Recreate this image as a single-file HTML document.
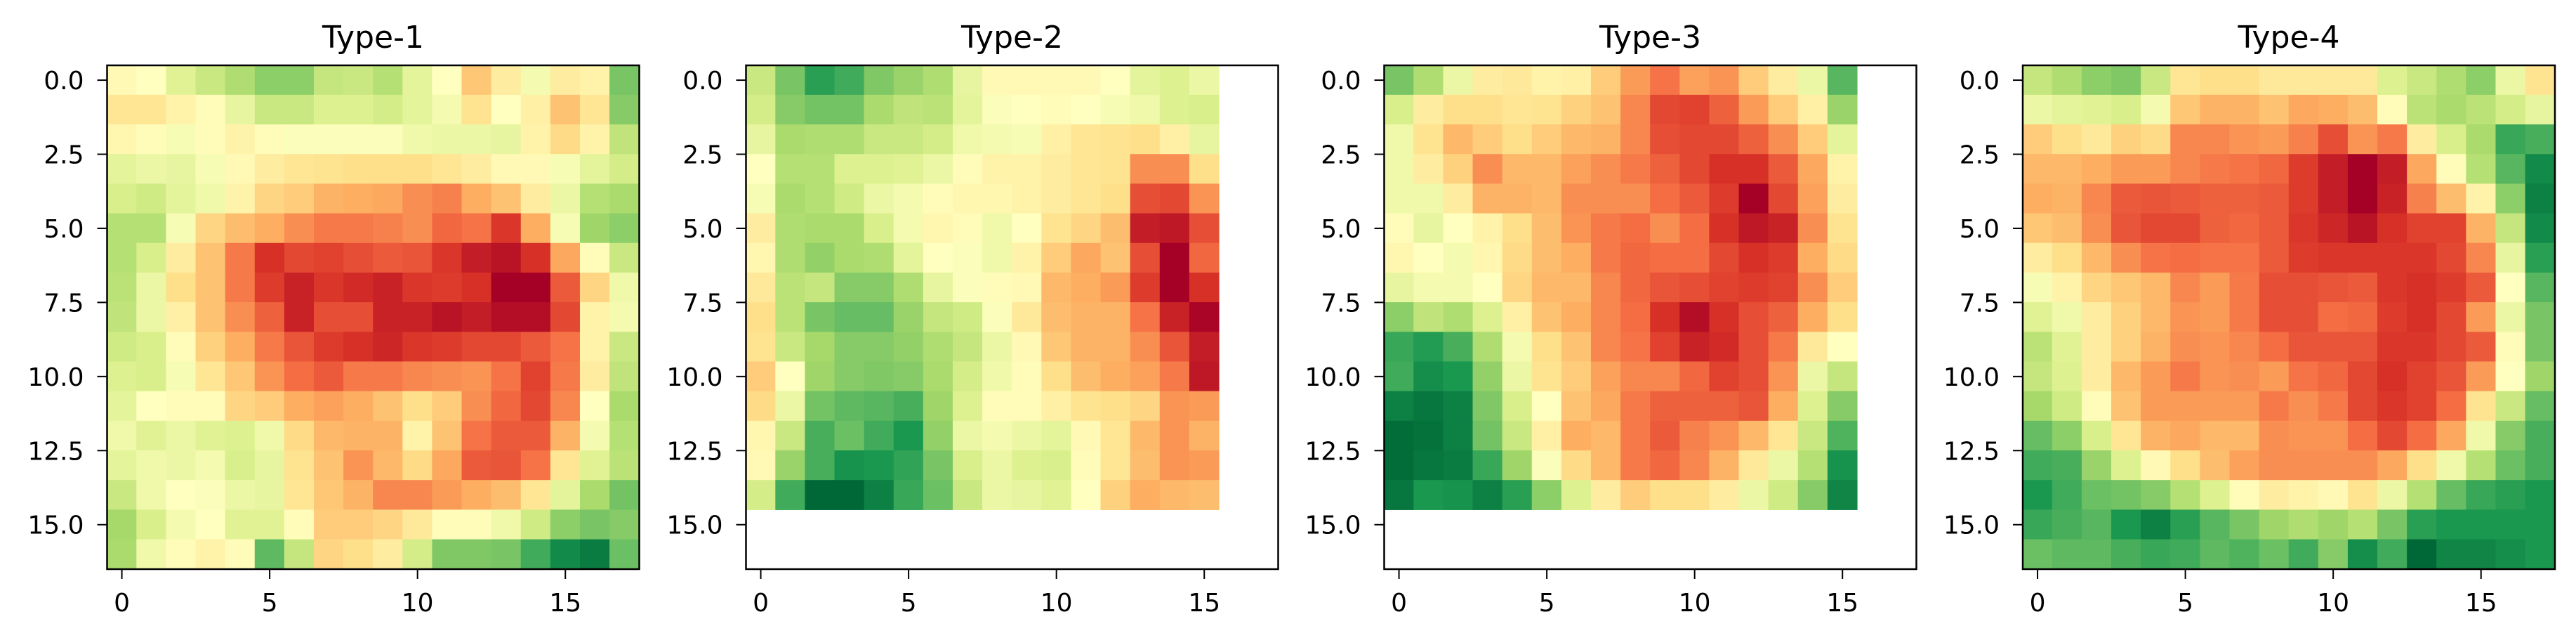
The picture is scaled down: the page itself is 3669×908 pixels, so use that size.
<!DOCTYPE html>
<html><head><meta charset="utf-8"><style>
html,body{margin:0;padding:0;background:#fff;}
svg{display:block;font-family:"DejaVu Sans","Liberation Sans",sans-serif;}
</style></head><body>
<svg id="chart" width="3669" height="908" viewBox="0 0 3669 908" xmlns="http://www.w3.org/2000/svg"></svg>
<script>
const titles = ["Type-1","Type-2","Type-3","Type-4"];
const xTicks = [0,5,10,15];
const yTicks = [0,2.5,5,7.5,10,12.5,15];
const yTickLabels = ["0.0","2.5","5.0","7.5","10.0","12.5","15.0"];
const type1 = [
[5.2,5,4.2,3.7,3.2,2.6,2.6,3.6,3.7,3.3,4.3,5,6.5,5.6,4.7,5.6,5.4,2.3],
[5.8,5.8,5.4,5.1,4.4,3.7,3.7,4.1,4.1,3.9,4.3,4.7,5.9,5,5.5,6.6,5.8,2.5],
[5.3,5.1,4.8,5.1,5.4,5.1,4.9,4.9,4.9,4.9,4.6,4.5,4.5,4.4,5.4,6.1,5.4,3.5],
[4.3,4.5,4.4,4.8,5.2,5.6,5.8,5.9,6,6,6,5.8,5.6,5.2,5.2,4.8,4.3,3.9],
[4,3.8,4.3,4.6,5.4,6.2,6.4,6.9,7,7.1,7.5,7.7,7,6.6,5.6,4.5,3.3,3.1],
[3.3,3.3,4.8,6.2,6.7,7,7.5,7.8,7.8,7.7,7.5,8.1,7.9,8.9,7,4.8,2.9,2.6],
[3.3,4,5.6,6.6,7.8,9,8.6,8.7,8.5,8.3,8.4,8.9,9.4,9.6,9,7.1,5.1,3.7],
[3.4,4.5,6,6.6,7.8,8.8,9.3,8.9,9.1,9.3,8.9,8.8,9,10,10,8.3,6.2,4.6],
[3.5,4.5,5.5,6.6,7.5,8.2,9.3,8.5,8.5,9.3,9.3,9.6,9.4,9.7,9.7,8.6,5.4,4.7],
[3.8,4,5.1,6.3,7,7.8,8.4,8.8,9,9.2,8.9,8.8,8.6,8.6,8.3,7.9,5.4,3.7],
[4.1,4,4.8,5.8,6.5,7.4,8,8.3,7.8,7.8,7.6,7.5,7.4,7.9,8.7,7.8,5.6,3.5],
[4.3,5,5.1,5.1,6.2,6.4,7,7.2,7,6.6,6,6.4,7.5,8.1,8.6,7.6,5,3.1],
[4.6,4.2,4.5,4.2,4.1,4.6,6.1,6.8,6.9,6.9,5.4,6.6,7.9,8.3,8.3,6.9,4.7,3.3],
[4.3,4.6,4.5,4.7,4,4.4,5.9,6.6,7.4,6.8,6.1,7.1,8.3,8.4,7.9,5.8,4.2,3.4],
[3.7,4.6,5,4.9,4.5,4.4,5.8,6.5,6.9,7.6,7.6,7.3,7,6.7,5.8,4.3,3.1,2.2],
[3,4,4.7,5,4.2,4.2,5.1,6.4,6.4,6.2,5.7,5.1,5.1,4.6,3.8,2.6,2.3,2.5],
[3.1,4.6,5.1,5.4,5.1,1.9,3.6,6.2,6,5.6,3.9,2.4,2.4,2.3,1.5,0.7,0.4,2.1]];
const type2 = [
[3.7,2.3,1.2,1.5,2.4,2.8,3.2,4.4,5.2,5.2,5.2,5.2,5,4.3,4.1,4.5],
[3.9,2.5,2.2,2.2,3.1,3.5,3.4,4.3,4.9,5,5.1,5,4.8,4.6,4.1,4],
[4.4,3.1,3.2,3.2,3.7,3.7,3.9,4.6,4.7,4.8,5.5,5.8,5.9,6,5.5,4.4],
[5,3.3,3.3,4.1,4.1,4.2,4.5,5.1,5.4,5.4,5.6,5.8,5.9,7.5,7.5,6],
[4.8,3.1,3.3,3.8,4.5,4.7,5.1,5.3,5.3,5.4,5.6,5.8,6,8.5,8.6,7.4],
[5.6,3.2,3.1,3.1,4,4.7,5.3,5.1,4.6,5,5.9,6.2,6.7,9.4,9.5,8.5],
[5.3,3.2,2.7,3.1,3.2,4.3,5,4.9,4.6,5.4,6.4,7.1,6.6,8.5,10,8.1],
[5.7,3.4,3.6,2.5,2.5,3.2,4.4,4.9,5.1,5.2,6.8,7,7.3,8.8,10,9],
[6,3.4,2.3,2,2,2.8,3.6,3.8,4.9,5.7,6.7,6.9,6.9,7.9,9.3,9.9],
[5.9,3.7,3,2.5,2.5,2.7,3.2,3.6,4.5,5.2,6.5,6.9,6.9,7.5,8.4,9.4],
[6.4,5,2.9,2.5,2.4,2.5,3.1,3.9,4.6,5.1,6,6.7,7,7.2,7.8,9.5],
[6.1,4.5,2.2,1.9,1.8,1.6,2.9,4.1,5.1,5.1,5.5,5.9,6,6.2,7.4,7.3],
[5.3,3.7,1.6,2.1,1.5,1,2.7,4.5,4.7,4.5,4.3,5.2,5.8,6.8,7.4,6.9],
[5.2,2.8,1.6,0.9,1,1.3,2.3,4,4.5,4.1,4,5.1,5.8,6.7,7.4,7.3],
[3.9,1.5,0,0,0.5,1.4,2.1,3.7,4.5,4.4,4.2,5,6.3,7,6.8,6.7]];
const type3 = [
[2.3,3.2,4.5,5.6,5.7,5.4,5.5,6.4,7.3,7.9,7.2,7.4,6.4,5.6,4.5,1.8],
[4,5.6,6,6,5.8,5.9,6.3,6.6,7.6,8.6,8.7,8.2,7.3,6.4,5.5,2.8],
[4.6,5.9,6.8,6.4,6,6.4,6.8,6.9,7.6,8.5,8.6,8.6,8.2,7.5,6.4,4.3],
[4.6,5.6,6.3,7.5,6.8,6.8,7.2,7.5,7.8,8.2,8.6,9,9,8.3,7.1,5.4],
[4.6,4.6,5.6,6.9,6.9,6.8,7.5,7.5,7.5,8,8.3,8.8,10,8.6,7.2,5.6],
[5.1,4.4,5,5.4,6,6.7,7.4,7.8,8,7.5,8,9,9.5,9.3,7.5,5.9],
[5.3,5,4.7,5.3,6.1,6.7,7,7.8,8.1,8,8,8.6,9,8.8,7,6.1],
[4.4,4.7,4.7,5,6.2,6.8,6.8,7.6,8.1,8.4,8.5,8.7,8.8,8.7,7.5,6.4],
[2.6,3.5,3.2,4.1,5.5,6.6,7,7.6,8,9,9.7,9,8.5,8.2,7,6],
[1.4,1.1,1.6,3.2,4.7,6,6.6,7.6,7.9,8.7,9.3,9.1,8.5,7.8,5.7,5],
[1.5,0.8,1,2.7,4.5,5.9,6.4,7.2,7.6,7.6,8.1,8.7,8.5,7.4,4.5,3.6],
[0.5,0.3,0.5,2.4,4,5,6.6,7.1,7.8,8.2,8.2,8.2,8.4,7,4.1,2.5],
[0.1,0.2,0.5,2.2,3.7,5.5,7,6.8,7.8,8.3,7.7,7.4,6.8,5.8,3.7,1.7],
[0.1,0.3,0.4,1.4,2.9,4.9,6.1,6.8,7.8,8.1,7.6,6.9,5.7,4.5,3.3,0.9],
[0.3,1,0.9,0.5,1.2,2.6,4.1,5.6,6.4,6,6,5.6,4.5,3.8,2.5,0.6]];
const type4 = [
[3.6,3.2,2.6,2.4,3.7,5.8,6,6,5.7,5.7,5.7,5.7,4.1,3.7,3.2,2.6,4.5,5.9],
[4.5,4.3,4.2,4,4.7,6.5,6.9,6.9,6.6,7.1,7,6.7,5.1,3.4,3.1,3.4,3.9,4.4],
[6.4,6,5.7,6.3,6.1,7.6,7.6,7.4,7.3,7.7,8.5,7.4,7.8,5.6,4,3.1,1.4,1.6],
[6.8,6.8,7,7.3,7.3,7.6,7.8,7.9,8.1,8.8,9.4,10,9.4,7.1,5.1,3.3,1.8,0.7],
[7,6.9,7.6,8.3,8.4,8.3,8.2,8.2,8.3,8.8,9.4,10,9.3,7.7,6.7,5.4,2.6,0.5],
[6.5,6.7,7.5,8.4,8.6,8.6,8.2,8.1,8.3,8.9,9.2,9.6,9,8.7,8.7,6.9,3.6,0.7],
[5.6,6,6.8,7.5,7.9,8,7.9,7.9,8.3,8.8,8.9,8.9,8.9,8.9,8.6,7.6,4.4,1.2],
[4.8,5.4,6.2,6.5,6.8,7.6,7.3,7.8,8.5,8.5,8.4,8.3,8.9,9,8.8,8.3,5,1.8],
[4.2,4.6,5.6,6.3,6.8,7.4,7.3,7.8,8.5,8.5,8,8.1,8.8,9,8.6,7.3,4.5,2.3],
[3.4,4.2,5.6,6.3,6.9,7.5,7.4,7.6,8,8.4,8.4,8.4,8.9,8.9,8.6,8.3,5.1,2.3],
[3.6,4.1,5.6,6.8,7.3,7.8,7.4,7.5,7.3,7.9,8.1,8.6,9,8.7,8.4,7.3,5,2.9],
[3,3.8,5.1,6.6,7.3,7.3,7.3,7.3,7.8,7.5,7.8,8.6,8.9,8.7,8,5.9,3.7,2],
[2,2.6,4,5.8,6.9,7.1,6.8,6.8,7.5,7.4,7.4,8,8.6,8,7.1,4.6,2.5,1.6],
[1.5,1.6,2.8,4.1,5.2,6,6.7,7.2,7.5,7.5,7.5,7.5,7.1,6,4.6,3.3,2.1,1.6],
[1,1.5,2.1,2.2,2.5,3.3,4.1,5.1,5.6,5.4,5.2,5.9,4.5,3.3,2,1.4,1.2,1],
[1.4,1.6,1.8,1,0.5,1.2,1.8,2.3,2.9,3.2,2.9,3.3,2.3,1.2,1,1,1,1],
[2.1,1.9,1.9,1.6,1.4,1.5,1.9,1.7,2.1,1.5,2.5,0.8,1.5,0,0.6,0.6,0.8,1]];
const grids = [type1, type2, type3, type4];

const NS = "http://www.w3.org/2000/svg";
const svg = document.getElementById("chart");
const stops = ["#006837","#1a9850","#66bd63","#a6d96a","#d9ef8b","#ffffbf","#fee08b","#fdae61","#f46d43","#d73027","#a50026"];
function hex(h){return [1,3,5].map(i=>parseInt(h.substr(i,2),16));}
const stopRGB = stops.map(hex);
function cmap(v){
  let t = Math.max(0, Math.min(10, v));
  let i = Math.min(9, Math.floor(t));
  let f = t - i;
  const a = stopRGB[i], b = stopRGB[i+1];
  return "rgb(" + a.map((c,k)=>Math.round(c+(b[k]-c)*f)).join(",") + ")";
}
function mk(tag, attrs){const e=document.createElementNS(NS,tag);for(const k in attrs)e.setAttribute(k,attrs[k]);return e;}

const panelLeft = [152.5, 1062.5, 1971.5, 2881];
const top0 = 93, W = 758, H = 717, NX = 18, NY = 17;
const cw = W/NX, ch = H/NY;

grids.forEach((grid, p) => {
  const x0 = panelLeft[p];
  const g = mk("g", {});
  
  
  svg.appendChild(g);
  const xs = c => x0 + c*cw;
  const ys = r => top0 + r*ch;
  grid.forEach((row, r) => row.forEach((v, c) => {
    const rect = mk("rect", {x: xs(c)-0.3, y: ys(r)-0.3, width: cw+0.6, height: ch+0.6, fill: cmap(v)});
    
    
    g.appendChild(rect);
  }));
  const frame = mk("rect", {x: x0, y: top0, width: W, height: H, fill: "none", stroke: "#000", "stroke-width": 2.5});
  
  
  g.appendChild(frame);
  const title = mk("text", {x: x0 + W/2, y: 68, "text-anchor": "middle", "font-size": 44, fill: "#000"});
  title.textContent = titles[p];
  
  
  g.appendChild(title);
  xTicks.forEach(t => {
    const x = x0 + (t+0.5)*cw;
    const ln = mk("line", {x1: x, x2: x, y1: top0+H, y2: top0+H+14, stroke: "#000", "stroke-width": 2});
    
    
    g.appendChild(ln);
    const tx = mk("text", {x: x, y: 870, "text-anchor": "middle", "font-size": 36, fill: "#000"});
    tx.textContent = String(t);
    
    
    g.appendChild(tx);
  });
  yTicks.forEach((t, i) => {
    const y = top0 + (t+0.5)*ch;
    const ln = mk("line", {x1: x0-14, x2: x0, y1: y, y2: y, stroke: "#000", "stroke-width": 2});
    
    
    g.appendChild(ln);
    const tx = mk("text", {x: x0-33, y: y+13, "text-anchor": "end", "font-size": 36, fill: "#000"});
    tx.textContent = yTickLabels[i];
    
    
    g.appendChild(tx);
  });
});
</script>
</body></html>
